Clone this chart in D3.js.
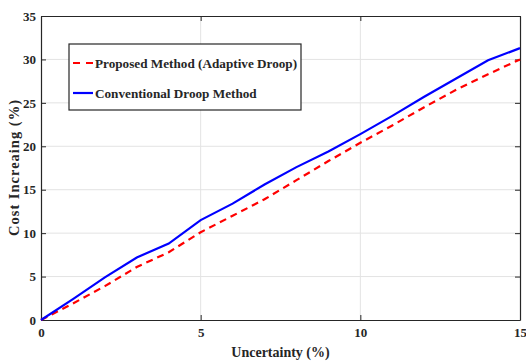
<!DOCTYPE html>
<html lang="en">
<head>
<meta charset="utf-8">
<title>Cost Increasing vs Uncertainty</title>
<script src="https://d3js.org/d3.v7.min.js"></script>
<style>
  body { margin: 0; background: #fff; }
  text { font-family: "Liberation Serif", "Times New Roman", serif; font-weight: bold; fill: #262626; }
</style>
</head>
<body>
<div id="chart"></div>
<script>
// data
var uncertainty = [0, 1, 2, 3, 4, 5, 6, 7, 8, 9, 10, 11, 12, 13, 14, 15];
var proposed = [0, 1.9, 3.9, 6.1, 7.8, 10.1, 12.0, 13.9, 16.1, 18.3, 20.4, 22.4, 24.5, 26.5, 28.3, 30.0];
var conventional = [0, 2.4, 4.9, 7.2, 8.8, 11.5, 13.4, 15.6, 17.6, 19.4, 21.4, 23.5, 25.7, 27.8, 29.9, 31.3];
var xTicks = [0, 5, 10, 15];
var yTicks = [0, 5, 10, 15, 20, 25, 30, 35];
var seriesNames = ["Proposed Method (Adaptive Droop)", "Conventional Droop Method"];

var width = 526, height = 363;
var margin = {top: 16, right: 6, bottom: 43, left: 41};

var svg = d3.select("#chart").append("svg")
    .attr("width", width)
    .attr("height", height);

var x = d3.scaleLinear().domain([0, 15]).range([margin.left, width - margin.right]);
var y = d3.scaleLinear().domain([0, 35]).range([height - margin.bottom, margin.top]);

// grid
svg.append("g").selectAll("line")
    .data(xTicks.slice(1, -1))
    .enter().append("line")
    .attr("x1", d => x(d)).attr("x2", d => x(d))
    .attr("y1", y(0)).attr("y2", y(35))
    .attr("stroke", "#e3e3e3").attr("stroke-width", 1);

svg.append("g").selectAll("line")
    .data(yTicks.slice(1, -1))
    .enter().append("line")
    .attr("x1", x(0)).attr("x2", x(15))
    .attr("y1", d => y(d)).attr("y2", d => y(d))
    .attr("stroke", "#e3e3e3").attr("stroke-width", 1);

// axes
var xAxis = d3.axisBottom(x).tickValues(xTicks).tickSizeInner(-5).tickSizeOuter(0).tickPadding(8);
var yAxis = d3.axisLeft(y).tickValues(yTicks).tickSizeInner(-5).tickSizeOuter(0).tickPadding(5);

svg.append("g").attr("transform", "translate(0," + y(0) + ")").call(xAxis);
svg.append("g").attr("transform", "translate(" + x(0) + ",0)").call(yAxis);

// top and right box edges with ticks
svg.append("g").attr("transform", "translate(0," + y(35) + ")")
    .call(d3.axisTop(x).tickValues(xTicks).tickSizeInner(-5).tickSizeOuter(0).tickFormat(""));
svg.append("g").attr("transform", "translate(" + x(15) + ",0)")
    .call(d3.axisRight(y).tickValues(yTicks).tickSizeInner(-5).tickSizeOuter(0).tickFormat(""));

svg.selectAll(".domain").attr("stroke", "#262626").attr("stroke-width", 1.2);
svg.selectAll(".tick line").attr("stroke", "#262626");
svg.selectAll(".tick text")
    .style("font-family", "'Liberation Serif', serif")
    .style("font-weight", "bold")
    .style("font-size", "13px")
    .attr("fill", "#262626");

// axis labels
svg.append("text")
    .attr("x", (x(0) + x(15)) / 2)
    .attr("y", 357)
    .attr("text-anchor", "middle")
    .style("font-size", "14px")
    .text("Uncertainty (%)");

svg.append("text")
    .attr("transform", "translate(19,168) rotate(-90)")
    .attr("text-anchor", "middle")
    .attr("textLength", 136)
    .attr("lengthAdjust", "spacing")
    .style("font-size", "14.5px")
    .text("Cost Increaing (%)");

// lines
var line = d3.line()
    .x((d, i) => x(uncertainty[i]))
    .y(d => y(d));

svg.append("path")
    .datum(proposed)
    .attr("d", line)
    .attr("fill", "none")
    .attr("stroke", "#ff0000")
    .attr("stroke-width", 2.2)
    .attr("stroke-dasharray", "7,5");

svg.append("path")
    .datum(conventional)
    .attr("d", line)
    .attr("fill", "none")
    .attr("stroke", "#0000ff")
    .attr("stroke-width", 2.2);

// legend
var legend = svg.append("g").attr("transform", "translate(69,44)");
legend.append("rect")
    .attr("width", 232).attr("height", 66)
    .attr("fill", "#fff").attr("stroke", "#262626").attr("stroke-width", 1.2);

legend.append("line")
    .attr("x1", 4).attr("x2", 24).attr("y1", 19).attr("y2", 19)
    .attr("stroke", "#ff0000").attr("stroke-width", 2.2)
    .attr("stroke-dasharray", "7,6");
legend.append("line")
    .attr("x1", 4).attr("x2", 24).attr("y1", 49).attr("y2", 49)
    .attr("stroke", "#0000ff").attr("stroke-width", 2.2);

legend.selectAll("text.lab")
    .data(seriesNames)
    .enter().append("text")
    .attr("x", 26)
    .attr("y", (d, i) => 19 + i * 30)
    .attr("dy", "0.35em")
    .style("font-size", "13.2px")
    .text(d => d);
</script>
</body>
</html>
